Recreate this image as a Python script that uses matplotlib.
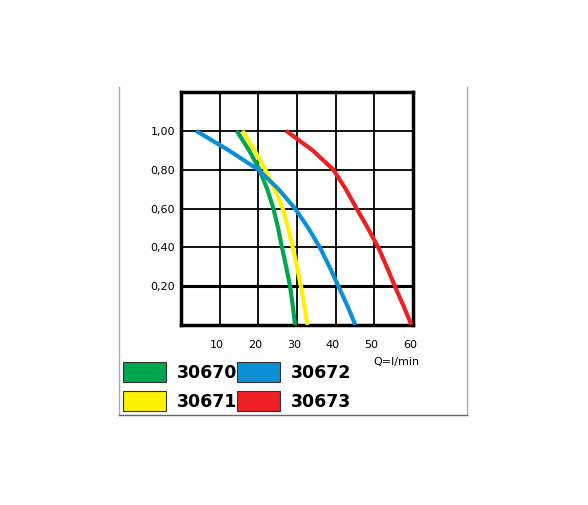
import matplotlib.pyplot as plt
from matplotlib.lines import Line2D
from matplotlib.patches import Rectangle

# flow Q (l/min) vs head
y_vals = [1.0, 0.9, 0.8, 0.7, 0.6, 0.5, 0.4, 0.3, 0.2, 0.1, 0.0]
q_30670 = [14.4, 17.6, 20.3, 22.3, 23.9, 25.1, 26.1, 27.2, 28.2, 28.9, 29.5]
q_30671 = [15.9, 19.0, 21.8, 24.2, 26.3, 27.7, 28.9, 30.0, 31.0, 31.9, 32.7]
q_30672 = [3.9, 12.3, 20.0, 25.2, 29.5, 32.9, 35.9, 38.4, 40.7, 43.0, 45.1]
q_30673 = [27.2, 34.0, 39.4, 42.6, 45.4, 48.3, 51.0, 53.2, 55.3, 57.5, 59.6]
names = ["30670", "30671", "30672", "30673"]
colors = ["#00a550", "#fff200", "#0d8fd6", "#ee2024"]

W, H = 588, 506
fig = plt.figure(figsize=(W / 100, H / 100), dpi=100)

def fx(px):
    return px / W

def fy(py):
    return 1 - py / H

ax = fig.add_axes([fx(181), fy(326), fx(413) - fx(181), fy(93) - fy(326)])
ax.set_xlim(0, 60)
ax.set_ylim(0, 1.2)
for x in range(10, 60, 10):
    ax.axvline(x, color="black", lw=1.3, zorder=1)
for y in [0.4, 0.6, 0.8, 1.0]:
    ax.axhline(y, color="black", lw=1.3, zorder=1)
ax.axhline(0.2, color="black", lw=2.2, zorder=1)
for s in ax.spines.values():
    s.set_linewidth(2.5)

for q, c in zip([q_30670, q_30671, q_30672, q_30673], colors):
    ax.plot(q, y_vals, color=c, lw=3, solid_capstyle="butt", zorder=3)

ax.set_xticks([])
ax.set_yticks([])
for x in range(10, 70, 10):
    ax.text(x - 0.8, -0.1, str(x), ha="center", va="center", fontsize=8)
for y in [0.2, 0.4, 0.6, 0.8, 1.0]:
    ax.text(-1.5, y, f"{y:.2f}".replace(".", ","), ha="right", va="center", fontsize=8)
fig.text(fx(396), fy(362), "Q=l/min", ha="center", va="center", fontsize=8)

# legend boxes
boxes = [(123, 363), (123, 392), (237, 363), (237, 392)]
order = [0, 1, 2, 3]
for (bx, by), i in zip(boxes, order):
    fig.add_artist(Rectangle((fx(bx), fy(by + 20)), fx(43), 20 / H,
                             facecolor=colors[i], edgecolor="#333333", lw=0.8))
    fig.text(fx(bx + 54), fy(by + 10), names[i], ha="left", va="center",
             fontsize=12.5, fontweight="bold")

# outer frame
gray = "#aaaaaa"
fig.add_artist(Line2D([fx(119), fx(119)], [fy(88), fy(416)], color=gray, lw=1))
fig.add_artist(Line2D([fx(467), fx(467)], [fy(88), fy(416)], color=gray, lw=1))
fig.add_artist(Line2D([fx(119), fx(467)], [fy(416), fy(416)], color="#666666", lw=1))

fig.savefig("out.png", dpi=100)
